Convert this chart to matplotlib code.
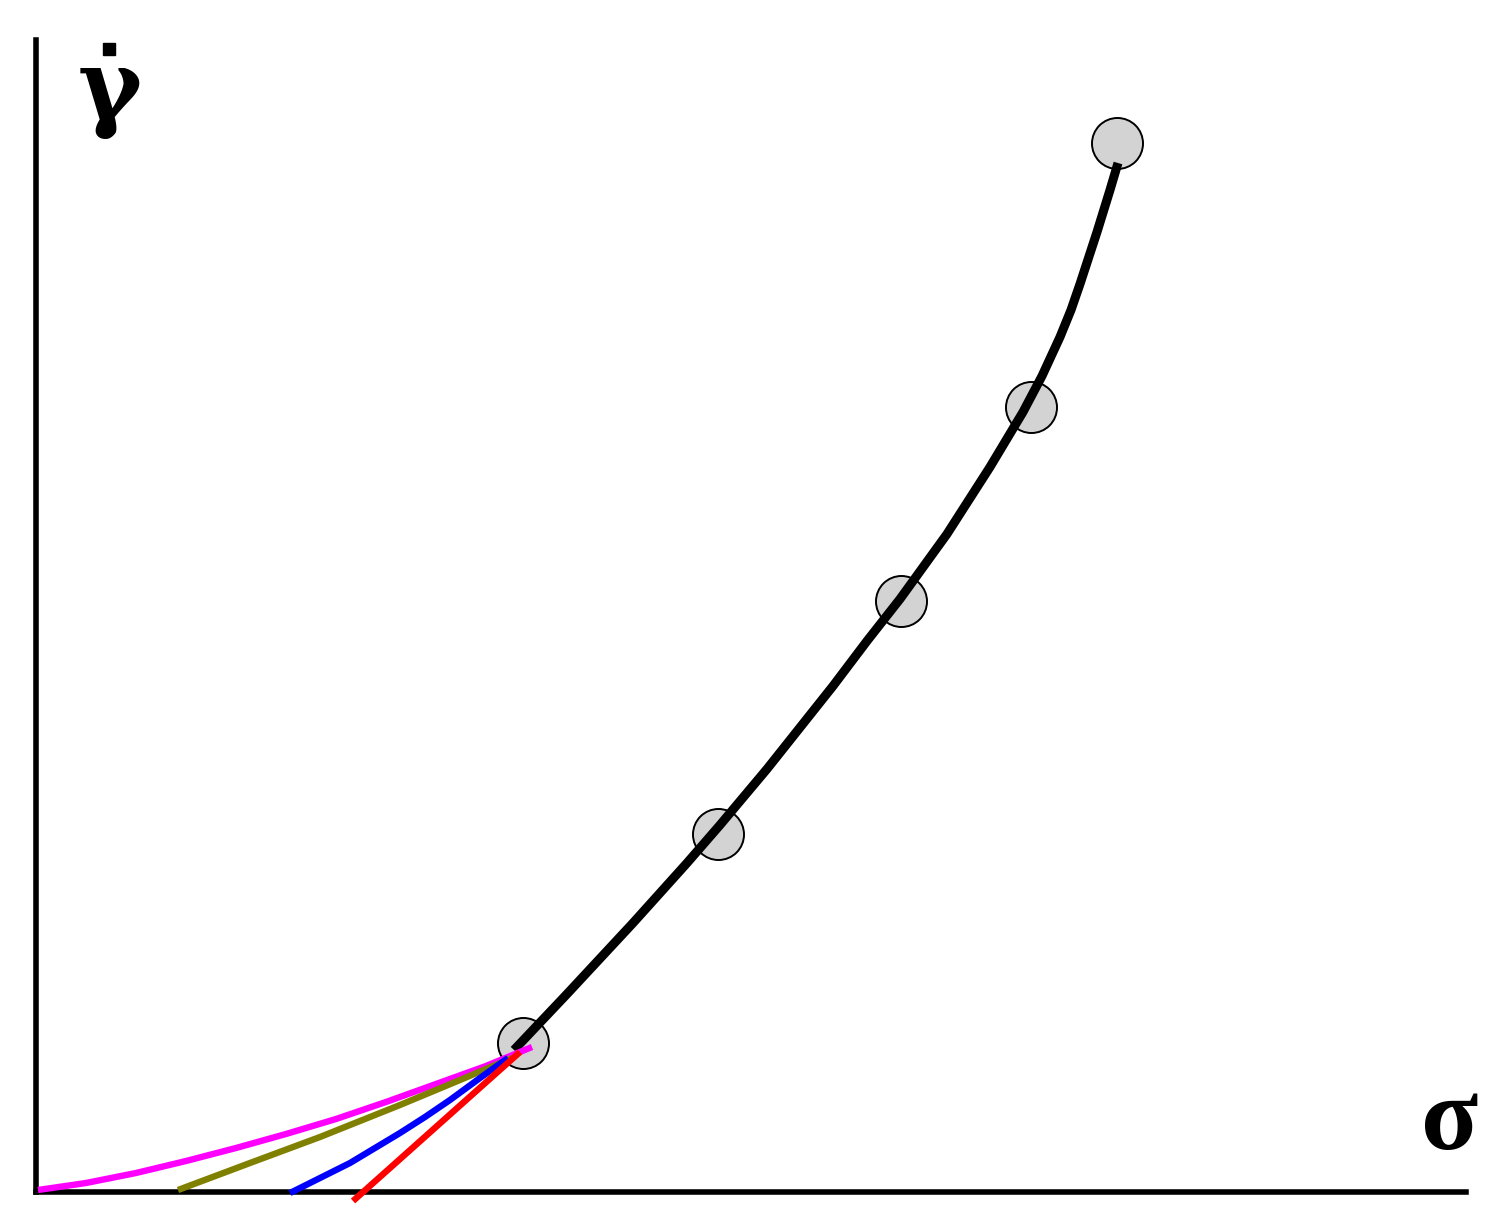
import numpy as np
import matplotlib.pyplot as plt

# measured points (arbitrary units)
pts_x = [4.87, 6.82, 8.65, 9.95, 10.81]
pts_y = [1.49, 3.58, 5.91, 7.85, 10.49]

fit_x = [4.78, 5.31, 5.97, 6.51, 6.84, 7.31, 7.97, 8.31, 8.64, 9.11, 9.54, 9.87,
         10.06, 10.24, 10.35, 10.44, 10.61, 10.74, 10.82]
fit_y = [1.42, 1.98, 2.69, 3.29, 3.67, 4.23, 5.06, 5.51, 5.93, 6.58, 7.25, 7.80,
         8.16, 8.55, 8.82, 9.08, 9.60, 10.02, 10.29]

magenta_x = [0.02, 0.5, 1.0, 1.5, 2.0, 2.5, 3.0, 3.5, 4.0, 4.5, 4.96]
magenta_y = [0.02, 0.09, 0.19, 0.31, 0.44, 0.58, 0.73, 0.90, 1.08, 1.26, 1.45]
olive_x = [1.42, 2.14, 2.84, 3.64, 4.24, 4.76]
olive_y = [0.02, 0.29, 0.55, 0.87, 1.12, 1.34]
blue_x = [2.54, 2.84, 3.14, 3.39, 3.64, 3.89, 4.14, 4.44, 4.72]
blue_y = [-0.01, 0.14, 0.29, 0.44, 0.59, 0.75, 0.92, 1.14, 1.34]
red_x = [3.17, 4.84]
red_y = [-0.09, 1.40]

fig = plt.figure(figsize=(15.02, 12.30), dpi=100)
ax = fig.add_axes([36 / 1502, 38 / 1230, 1430 / 1502, 1152 / 1230])
ax.set_xlim(0, 14.30)
ax.set_ylim(0, 11.52)

ax.scatter(pts_x, pts_y, s=1350, facecolor='#d3d3d3', edgecolor='black',
           linewidth=1.4, zorder=2, clip_on=False)
ax.plot(fit_x, fit_y, color='black', lw=6.5, solid_capstyle='butt',
        solid_joinstyle='round', zorder=3)
for xs, ys, c in [(magenta_x, magenta_y, '#ff00ff'), (olive_x, olive_y, '#808000'),
                  (blue_x, blue_y, '#0000ff'), (red_x, red_y, '#ff0000')]:
    ax.plot(xs, ys, color=c, lw=4.6, solid_capstyle='butt',
            solid_joinstyle='round', zorder=4, clip_on=False)

for s in ['top', 'right']:
    ax.spines[s].set_visible(False)
for s in ['left', 'bottom']:
    ax.spines[s].set_linewidth(4)
ax.set_xticks([])
ax.set_yticks([])

fnt = dict(family='DejaVu Serif', weight='bold', fontsize=70)
fig.text(110 / 1502, 1 - 92 / 1230, 'γ', ha='center', va='center', **fnt)
ax.plot([109 / 1502], [1 - 49 / 1230], marker='s', markersize=8.5, color='black',
        transform=fig.transFigure, clip_on=False)
fig.text(1450 / 1502, 1 - 1124 / 1230, 'σ', ha='center', va='center',
         family='Liberation Serif', weight='bold', fontsize=76)

fig.savefig('out.png')
